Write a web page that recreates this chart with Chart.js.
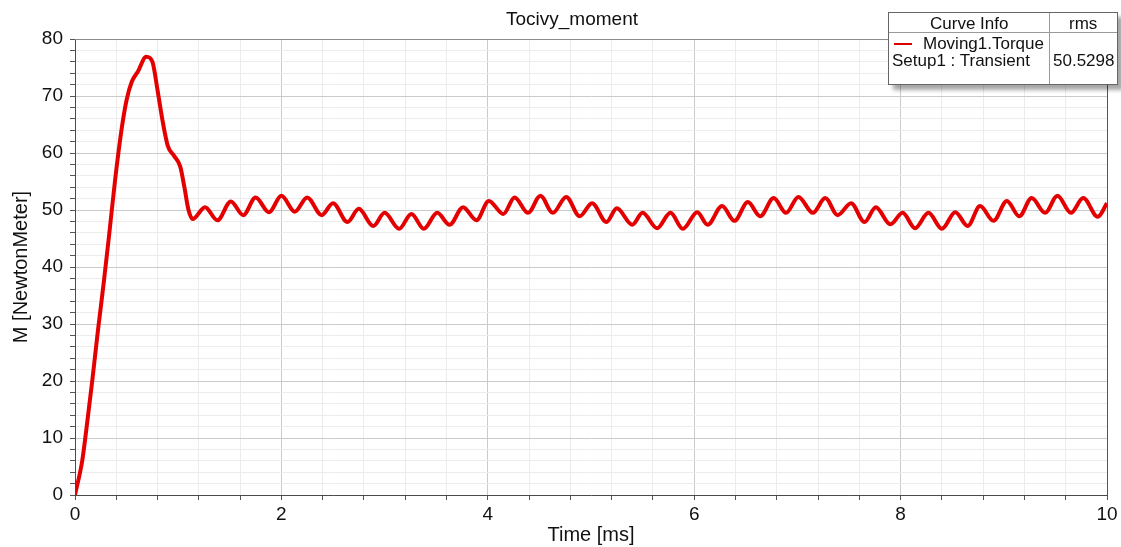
<!DOCTYPE html>
<html>
<head>
<meta charset="utf-8">
<script src="https://cdn.jsdelivr.net/npm/chart.js@4/dist/chart.umd.min.js"></script>
<style>
  html, body { margin: 0; padding: 0; background: #fff; }
  #wrap { position: relative; width: 1121px; height: 547px; }
  #legendBox {
    position: absolute; left: 888px; top: 12px; width: 228px; height: 71px;
    background: #fff; border: 1px solid #666;
    box-shadow: 5px 5px 4px rgba(0,0,0,0.35);
    font-family: "Liberation Sans", Arial, sans-serif; font-size: 17px; color: #111;
  }
  #legendBox span { position: absolute; white-space: nowrap; line-height: 17px; }
  .hline { position: absolute; left: 0; right: 0; top: 19px; border-top: 1px solid #999; }
  .vline { position: absolute; top: 0; bottom: 0; left: 160px; border-left: 1px solid #999; }
  .swatch { position: absolute; left: 5px; top: 30px; width: 18px; height: 0; border-top: 2px solid #d00; }
</style>
</head>
<body>
<div id="wrap">
  <canvas id="torqueChart" width="1121" height="547"></canvas>
  <div id="legendBox">
    <div class="hline"></div>
    <div class="vline"></div>
    <span style="left:41px; top:2px;">Curve Info</span>
    <span style="left:180px; top:2px;">rms</span>
    <div class="swatch"></div>
    <span style="left:34px; top:22px;">Moving1.Torque</span>
    <span style="left:3px; top:39px;">Setup1 : Transient</span>
    <span style="left:164px; top:39px;">50.5298</span>
  </div>
</div>
<script>
// values
const timeMs = [
  0, 0.07, 0.12, 0.17, 0.22, 0.28, 0.33, 0.39, 0.45, 0.50, 0.55, 0.61, 0.69, 0.75,
  0.80, 0.85, 0.90, 0.96, 1.02, 1.06, 1.10, 1.14,
  1.26, 1.38, 1.51, 1.63, 1.75, 1.88, 2.00, 2.13, 2.25, 2.39, 2.50, 2.64, 2.75, 2.89,
  3.00, 3.14, 3.26, 3.38, 3.51, 3.63, 3.76, 3.89, 4.01, 4.15, 4.26, 4.39, 4.51, 4.63,
  4.76, 4.89, 5.01, 5.15, 5.25, 5.40, 5.50, 5.64, 5.77, 5.89, 6.03, 6.13, 6.27, 6.39,
  6.52, 6.64, 6.77, 6.89, 7.01, 7.15, 7.27, 7.39, 7.52, 7.65, 7.76, 7.90, 8.02, 8.14,
  8.27, 8.40, 8.53, 8.65, 8.77, 8.90, 9.03, 9.15, 9.27, 9.40, 9.52, 9.65, 9.77, 9.91, 10.0
];
const torque = [
  0, 6, 13, 20.5, 28.5, 37.5, 45.5, 55.5, 64, 69.3, 72.5, 74.3, 76.9, 76,
  71, 65.5, 61.2, 59.5, 57.6, 54, 50, 48.4,
  50.5, 48.2, 51.5, 49.1, 52.2, 49.6, 52.5, 49.7, 52.2, 49.1, 51.2, 47.9, 50.2, 47.2,
  49.5, 46.7, 49.3, 46.7, 49.5, 47.4, 50.5, 48.2, 51.6, 49.3, 52.2, 49.5, 52.5, 49.5,
  52.3, 48.9, 51.2, 47.9, 50.3, 47.4, 49.5, 46.8, 49.5, 46.7, 49.6, 47.4, 50.7, 48.1,
  51.4, 48.9, 52.1, 49.5, 52.3, 49.5, 52.1, 49.1, 51.2, 47.9, 50.5, 47.5, 49.5, 46.8,
  49.5, 46.7, 49.6, 47.2, 50.7, 48.1, 51.6, 48.9, 52.1, 49.5, 52.5, 49.5, 52.1, 48.8, 51.2
];

const xMajor = 2, yMajor = 10;
const FONT = '"Liberation Sans", Arial, sans-serif';

function isMajor(v, step) {
    const r = v / step;
    return Math.abs(r - Math.round(r)) < 1e-6;
}

// chart title plus the top and right frame lines of the plot area
const frame = {
    id: 'frame',
    afterDraw(chart) {
        const { ctx, chartArea: a } = chart;
        ctx.save();
        ctx.lineWidth = 1;
        ctx.strokeStyle = '#8c8c8c';
        ctx.beginPath();
        ctx.moveTo(a.left, a.top + 0.5);
        ctx.lineTo(a.right, a.top + 0.5);
        ctx.stroke();
        ctx.strokeStyle = '#555';
        ctx.beginPath();
        ctx.moveTo(a.right + 0.5, a.top);
        ctx.lineTo(a.right + 0.5, a.bottom);
        ctx.stroke();

        ctx.fillStyle = '#111';
        ctx.font = '19px ' + FONT;
        ctx.textAlign = 'center';
        ctx.textBaseline = 'middle';
        ctx.fillText('Tocivy_moment', 572, 20);
        ctx.restore();
    }
};

new Chart(document.getElementById('torqueChart'), {
    type: 'line',
    data: {
        datasets: [{
            label: 'Moving1.Torque',
            data: timeMs.map((t, i) => ({ x: t, y: torque[i] })),
            borderColor: 'rgb(228,0,0)',
            borderWidth: 4,
            pointRadius: 0,
            cubicInterpolationMode: 'monotone',
            fill: false
        }]
    },
    options: {
        responsive: false,
        animation: false,
        layout: { padding: { left: 0, right: 14, top: 39, bottom: 0 } },
        scales: {
            x: {
                type: 'linear',
                min: 0, max: 10,
                afterFit: s => { s.height = 52; },
                ticks: {
                    stepSize: 0.4, autoSkip: false, maxTicksLimit: 100, maxRotation: 0,
                    padding: 3, color: '#111', font: { family: FONT, size: 19 },
                    callback: v => isMajor(v, xMajor) ? String(Math.round(v)) : ''
                },
                grid: {
                    color: c => isMajor(c.tick.value, xMajor) ? '#cbcbcb' : '#ececec',
                    tickColor: '#555', tickLength: 5
                },
                border: { color: '#4a4a4a', width: 1 },
                title: {
                    display: true, text: 'Time [ms]', color: '#111',
                    font: { family: FONT, size: 20 }, padding: { top: 0, bottom: 0 }
                }
            },
            y: {
                min: 0, max: 80,
                afterFit: s => { s.width = 75; },
                ticks: {
                    stepSize: 2, autoSkip: false, maxTicksLimit: 100,
                    padding: 7, color: '#111', font: { family: FONT, size: 19 },
                    callback: v => isMajor(v, yMajor) ? String(Math.round(v)) : ''
                },
                grid: {
                    color: c => isMajor(c.tick.value, yMajor) ? '#cbcbcb' : '#ececec',
                    tickColor: '#555', tickLength: 5
                },
                border: { color: '#4a4a4a', width: 1 },
                title: {
                    display: true, text: 'M [NewtonMeter]', color: '#111',
                    font: { family: FONT, size: 20 }, padding: { top: 9, bottom: 0 }
                }
            }
        },
        plugins: {
            legend: { display: false },
            tooltip: { enabled: false },
            title: { display: false }
        }
    },
    plugins: [frame]
});
</script>
</body>
</html>
